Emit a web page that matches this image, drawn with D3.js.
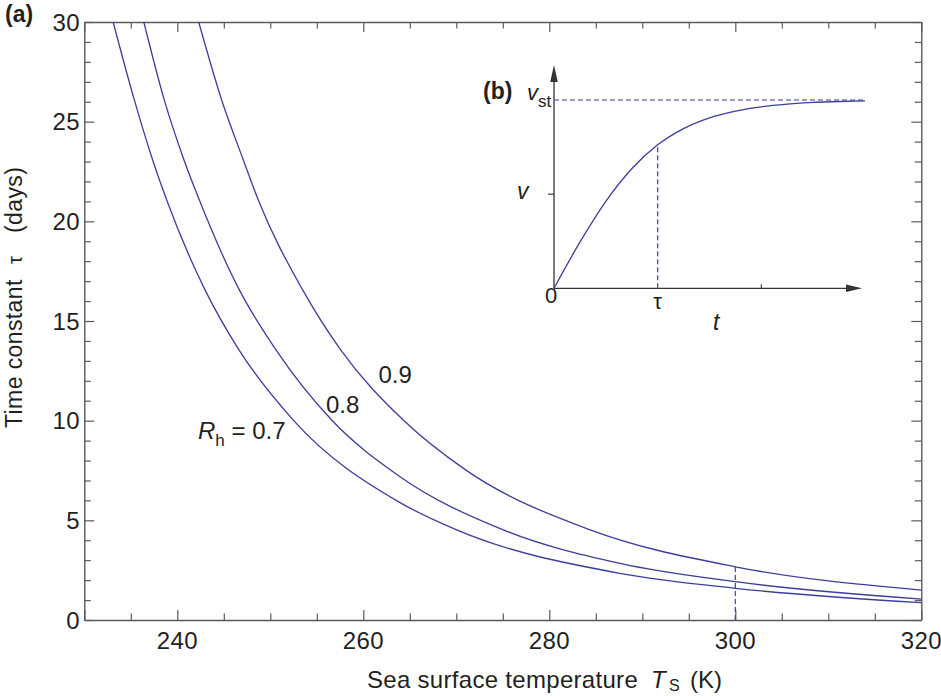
<!DOCTYPE html>
<html><head><meta charset="utf-8">
<script src="https://cdn.jsdelivr.net/npm/d3@7"></script>
<style>
html,body{margin:0;padding:0;background:#fff;}
svg text{font-family:"Liberation Sans",Arial,Helvetica,sans-serif;fill:#231f20;}
</style></head>
<body>
<svg id="chart" width="941" height="696"></svg>
<script>
// ---- Main panel (a) data: sea-surface temperature (K) vs time constant tau (days)
const rh07T   = [233.1, 235.38, 237.35, 238.86, 242.98, 246.63, 252.47, 263.95, 270.04, 287.6, 300, 320];
const rh07Tau = [30, 26.09, 23.08, 21.07, 16.56, 13.55, 10.03, 5.89, 4.52, 2.34, 1.59, 0.87];
const rh08T   = [236.4, 238.6, 240.72, 242.37, 246.67, 250.61, 256.6, 263.95, 275.05, 287.6, 300, 320];
const rh08Tau = [30, 26.09, 23.08, 21.07, 16.56, 13.55, 10.03, 7.19, 4.52, 2.84, 1.92, 1.05];
const rh09T   = [242.3, 244.77, 247.1, 248.71, 253.48, 257.57, 264.3, 271.0, 284.4, 300, 320];
const rh09Tau = [30, 26.09, 23.08, 21.07, 16.56, 13.55, 10.03, 7.53, 4.52, 2.67, 1.5];
const seriesNames = ["0.7", "0.8", "0.9"];
const xTickLabels = [240, 260, 280, 300, 320];
const yTickLabels = [0, 5, 10, 15, 20, 25, 30];
const markerT = 300, markerTau = 2.67;

// ---- Inset panel (b) data: t/tau vs v/vst
const insetT = [0, 0.25, 0.5, 0.75, 1, 1.25, 1.5, 1.75, 2, 2.25, 2.5, 2.75, 3];
const insetV = [0, 0.245, 0.462, 0.635, 0.762, 0.848, 0.905, 0.941, 0.964, 0.978, 0.987, 0.992, 0.995];
const insetTauT = 1, insetTauV = 0.762;

const svg = d3.select("#chart");
const curveColor = "#3d3d9e";
const axisColor = "#5a5a5a";

// scales
const x = d3.scaleLinear().domain([230, 320]).range([84.3, 921.3]);
const y = d3.scaleLinear().domain([0, 30]).range([620, 22]);

const plot = svg.append("g");

function styleAxis(g){
  g.select(".domain").attr("stroke", axisColor).attr("stroke-width", 1.4);
  g.selectAll(".tick line").attr("stroke", axisColor).attr("stroke-width", 1.2);
  g.selectAll("text").remove();
}
const xMinor = d3.range(230, 320.1, 5);
const yMinor = d3.range(0, 30.1, 1);
const xMajorSet = new Set(xTickLabels.concat([230]));
const yMajorSet = new Set(yTickLabels);

function drawTicks(axisGen, transform, vals, majorSet, sign){
  const g = plot.append("g").attr("transform", transform)
    .call(axisGen.tickValues(vals).tickSizeOuter(0).tickSizeInner(0).tickFormat(""));
  g.selectAll(".tick line").attr(sign.attr, d => sign.dir * (majorSet.has(d) ? 10 : 6.5));
  styleAxis(g);
  return g;
}
drawTicks(d3.axisBottom(x), "translate(0,620)", xMinor, xMajorSet, {attr:"y2", dir:-1});
drawTicks(d3.axisTop(x), "translate(0,22)", xMinor, xMajorSet, {attr:"y2", dir:1});
drawTicks(d3.axisLeft(y), "translate(84.3,0)", yMinor, yMajorSet, {attr:"x2", dir:1});
drawTicks(d3.axisRight(y), "translate(921.3,0)", yMinor, yMajorSet, {attr:"x2", dir:-1});

// tick labels
plot.selectAll(".xl").data(xTickLabels).enter().append("text")
  .attr("x", d => x(d)).attr("y", 649).attr("text-anchor", "middle")
  .style("font-size", "24px").style("letter-spacing", "0.4px").text(d => d);
plot.selectAll(".yl").data(yTickLabels).enter().append("text")
  .attr("x", 80).attr("y", d => y(d) + 8.6).attr("text-anchor", "end")
  .style("font-size", "24px").style("letter-spacing", "0.4px").text(d => d);

// curves
const line = d3.line().x(d => x(d[0])).y(d => y(d[1])).curve(d3.curveMonotoneX);
const series = [
  d3.zip(rh07T, rh07Tau),
  d3.zip(rh08T, rh08Tau),
  d3.zip(rh09T, rh09Tau)
];
plot.selectAll(".curve").data(series).enter().append("path")
  .attr("d", line).attr("fill", "none").attr("stroke", curveColor).attr("stroke-width", 1.3);

// dashed marker at 300 K
plot.append("line")
  .attr("x1", x(markerT)).attr("x2", x(markerT)).attr("y1", y(0)).attr("y2", y(markerTau))
  .attr("stroke", curveColor).attr("stroke-width", 1.2).attr("stroke-dasharray", "5,3");

// curve labels
const lab7 = plot.append("text").attr("x", 198).attr("y", 439).style("font-size", "24px");
lab7.append("tspan").style("font-style", "italic").text("R");
lab7.append("tspan").attr("dy", 7).style("font-size", "17px").text("h");
lab7.append("tspan").attr("dy", -7).text(" = " + seriesNames[0]);
plot.append("text").attr("x", 326).attr("y", 412.5).style("font-size", "24px").text(seriesNames[1]);
plot.append("text").attr("x", 378.5).attr("y", 383).style("font-size", "24px").text(seriesNames[2]);

// axis titles
const xt = svg.append("g");
xt.append("text").attr("x", 367).attr("y", 688).style("font-size", "24px").style("letter-spacing", "0.3px").text("Sea surface temperature");
xt.append("text").attr("x", 651).attr("y", 688).style("font-size", "24px").style("font-style", "italic").text("T");
xt.append("text").attr("x", 669).attr("y", 691).style("font-size", "16px").text("S");
xt.append("text").attr("x", 690).attr("y", 688).style("font-size", "24px").text("(K)");

function yTitle(txt, pos, size){
  svg.append("text").attr("transform", `translate(22,${pos}) rotate(-90)`)
    .style("font-size", size + "px").style("letter-spacing", "0.4px").text(txt);
}
yTitle("Time constant", 428, 23);
yTitle("\u03c4", 264, 20);
yTitle("(days)", 233, 23);

// panel label (a)
svg.append("text").attr("x", 5).attr("y", 22).style("font-size", "23px").style("font-weight", "bold").text("(a)");

// ---- inset (b)
const ix = d3.scaleLinear().domain([0, 3]).range([554, 865]);
const iy = d3.scaleLinear().domain([0, 1]).range([288.3, 100]);
const inset = svg.append("g");
const inkAxis = "#333";

inset.append("line").attr("x1", ix(0)).attr("y1", iy(0)).attr("x2", ix(0)).attr("y2", 80)
  .attr("stroke", inkAxis).attr("stroke-width", 1.3);
inset.append("path").attr("d", `M${ix(0)},65 L${ix(0)-3.8},82 L${ix(0)+3.8},82 Z`).attr("fill", inkAxis);
inset.append("line").attr("x1", ix(0)).attr("y1", iy(0)).attr("x2", 848).attr("y2", iy(0))
  .attr("stroke", inkAxis).attr("stroke-width", 1.3);
inset.append("path").attr("d", `M862,${iy(0)} L846,${iy(0)-3.8} L846,${iy(0)+3.8} Z`).attr("fill", inkAxis);
inset.append("line").attr("x1", ix(0) - 6).attr("x2", ix(0)).attr("y1", iy(0.5)).attr("y2", iy(0.5))
  .attr("stroke", inkAxis).attr("stroke-width", 1.1);
inset.append("line").attr("x1", ix(2)).attr("x2", ix(2)).attr("y1", iy(0)).attr("y2", iy(0) - 4)
  .attr("stroke", inkAxis).attr("stroke-width", 1.1);

inset.append("line").attr("x1", ix(0)).attr("x2", ix(3) + 1).attr("y1", iy(1)).attr("y2", iy(1))
  .attr("stroke", curveColor).attr("stroke-width", 1.2).attr("stroke-dasharray", "5,3");
inset.append("line").attr("x1", ix(insetTauT)).attr("x2", ix(insetTauT)).attr("y1", iy(0)).attr("y2", iy(insetTauV))
  .attr("stroke", curveColor).attr("stroke-width", 1.2).attr("stroke-dasharray", "5,3");

const iline = d3.line().x(d => ix(d[0])).y(d => iy(d[1])).curve(d3.curveMonotoneX);
inset.append("path").datum(d3.zip(insetT, insetV)).attr("d", iline)
  .attr("fill", "none").attr("stroke", curveColor).attr("stroke-width", 1.3);

inset.append("text").attr("x", 483).attr("y", 99).style("font-size", "23px").style("font-weight", "bold").text("(b)");
const vst = inset.append("text").attr("x", 527).attr("y", 100).style("font-size", "22px");
vst.append("tspan").style("font-style", "italic").text("v");
vst.append("tspan").attr("dy", 7).style("font-size", "17px").text("st");
inset.append("text").attr("x", 517).attr("y", 199).style("font-size", "23px").style("font-style", "italic").text("v");
inset.append("text").attr("x", 551).attr("y", 303).attr("text-anchor", "middle").style("font-size", "22px").text("0");
inset.append("text").attr("x", ix(insetTauT)).attr("y", 309).attr("text-anchor", "middle").style("font-size", "22px").text("\u03c4");
inset.append("text").attr("x", 713).attr("y", 330).style("font-size", "23px").style("font-style", "italic").text("t");
</script>
</body></html>
